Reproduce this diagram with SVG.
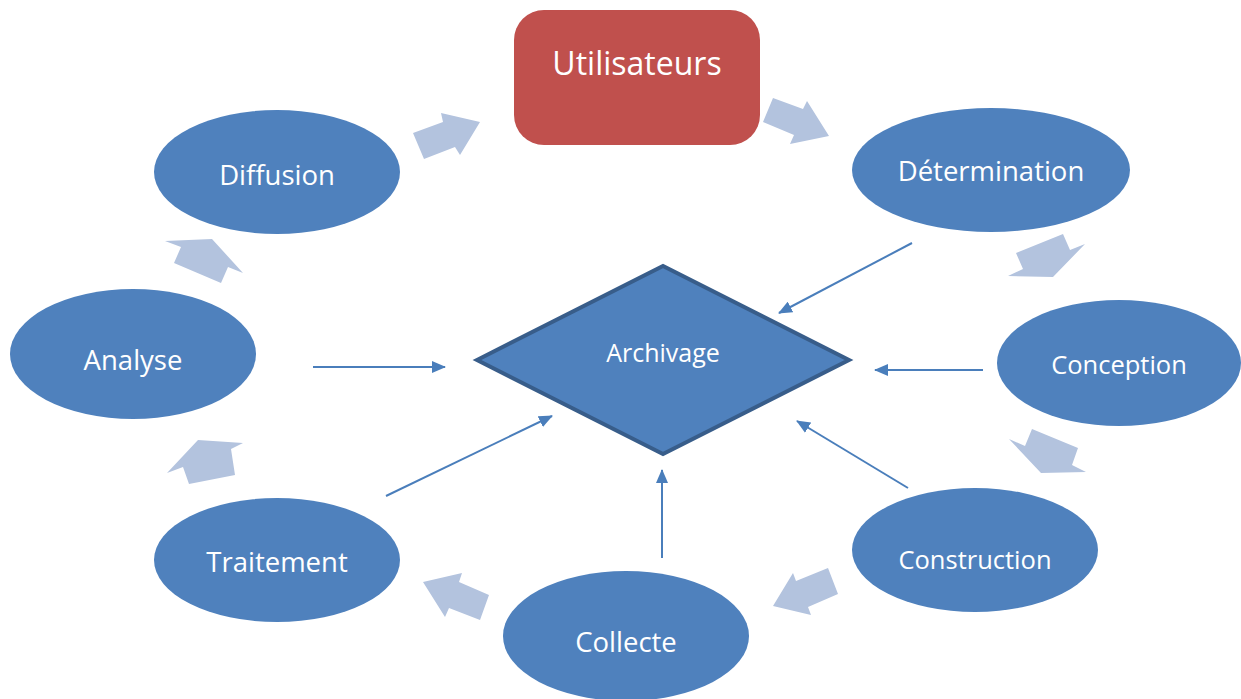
<svg xmlns="http://www.w3.org/2000/svg" width="1241" height="699" viewBox="0 0 1241 699">
<style>
.node{fill:#4F81BD;}
.lbl{fill:#FFFFFF;font-family:"Open Sans","Noto Sans",sans-serif;font-size:27.5px;text-anchor:middle;}
.blk{fill:#B3C3DE;}
.con{stroke:#4A7EBB;stroke-width:2;fill:none;marker-end:url(#ah);}
</style>
<defs>
<marker id="ah" viewBox="0 0 14 12" refX="13" refY="6" markerWidth="14" markerHeight="12" markerUnits="userSpaceOnUse" orient="auto">
<path d="M0,0 L14,6 L0,12 Z" fill="#4A7EBB"/>
</marker>
</defs>
<rect width="1241" height="699" fill="#FFFFFF"/>
<g id="block-arrows">
<polygon class="blk" points="413,133 443,122 441,113 480,122 460,155 455,147 424,159"/>
<polygon class="blk" points="773,98 803,109 807,101 829,136 790,144 794,135 763,122"/>
<polygon class="blk" points="1016,253 1063,234 1070,250 1085,244 1053,277 1008,276 1023,269"/>
<polygon class="blk" points="1032,429 1078,448 1072,465 1086,472 1041,473 1009,439 1025,446"/>
<polygon class="blk" points="828,568 838,594 808,607 811,615 773,606 793,573 796,581"/>
<polygon class="blk" points="423,582 462,573 459,582 489,595 480,620 449,608 445,617"/>
<polygon class="blk" points="198,440 243,443 231,449 235,475 189,484 183,467 167,473"/>
<polygon class="blk" points="165,241 212,239 243,273 228,267 221,283 174,263 181,247"/>
</g>
<g id="connectors">
<line class="con" x1="912" y1="243" x2="779" y2="313"/>
<line class="con" x1="313" y1="367" x2="445" y2="367"/>
<line class="con" x1="983" y1="370" x2="875" y2="370"/>
<line class="con" x1="908" y1="488" x2="797" y2="421"/>
<line class="con" x1="662" y1="558" x2="662" y2="470"/>
<line class="con" x1="386" y1="496" x2="552" y2="416"/>
</g>
<g id="utilisateurs">
<rect x="514" y="10" width="246" height="135" rx="30" ry="30" fill="#C0504D"/>
<text class="lbl" x="637" y="75" style="font-size:32px">Utilisateurs</text>
</g>
<g id="archivage">
<polygon points="477,360 663,266 849,360 663,454" fill="#4F81BD" stroke="#385D8A" stroke-width="4" stroke-linejoin="miter"/>
<text class="lbl" x="663" y="362" style="font-size:25px">Archivage</text>
</g>
<g id="diffusion">
<ellipse class="node" cx="277" cy="172" rx="123" ry="62"/>
<text class="lbl" x="277" y="185">Diffusion</text>
</g>
<g id="determination">
<ellipse class="node" cx="991" cy="170" rx="139" ry="62"/>
<text class="lbl" x="991" y="181">Détermination</text>
</g>
<g id="conception">
<ellipse class="node" cx="1119" cy="363" rx="122" ry="63"/>
<text class="lbl" x="1119" y="374" style="font-size:25.5px">Conception</text>
</g>
<g id="construction">
<ellipse class="node" cx="975" cy="550" rx="123" ry="62"/>
<text class="lbl" x="975" y="569" style="font-size:25.5px">Construction</text>
</g>
<g id="collecte">
<ellipse class="node" cx="626" cy="636" rx="123" ry="65"/>
<text class="lbl" x="626" y="652">Collecte</text>
</g>
<g id="traitement">
<ellipse class="node" cx="277" cy="560" rx="123" ry="62"/>
<text class="lbl" x="277" y="572">Traitement</text>
</g>
<g id="analyse">
<ellipse class="node" cx="133" cy="354" rx="123" ry="65"/>
<text class="lbl" x="133" y="370">Analyse</text>
</g>
</svg>
